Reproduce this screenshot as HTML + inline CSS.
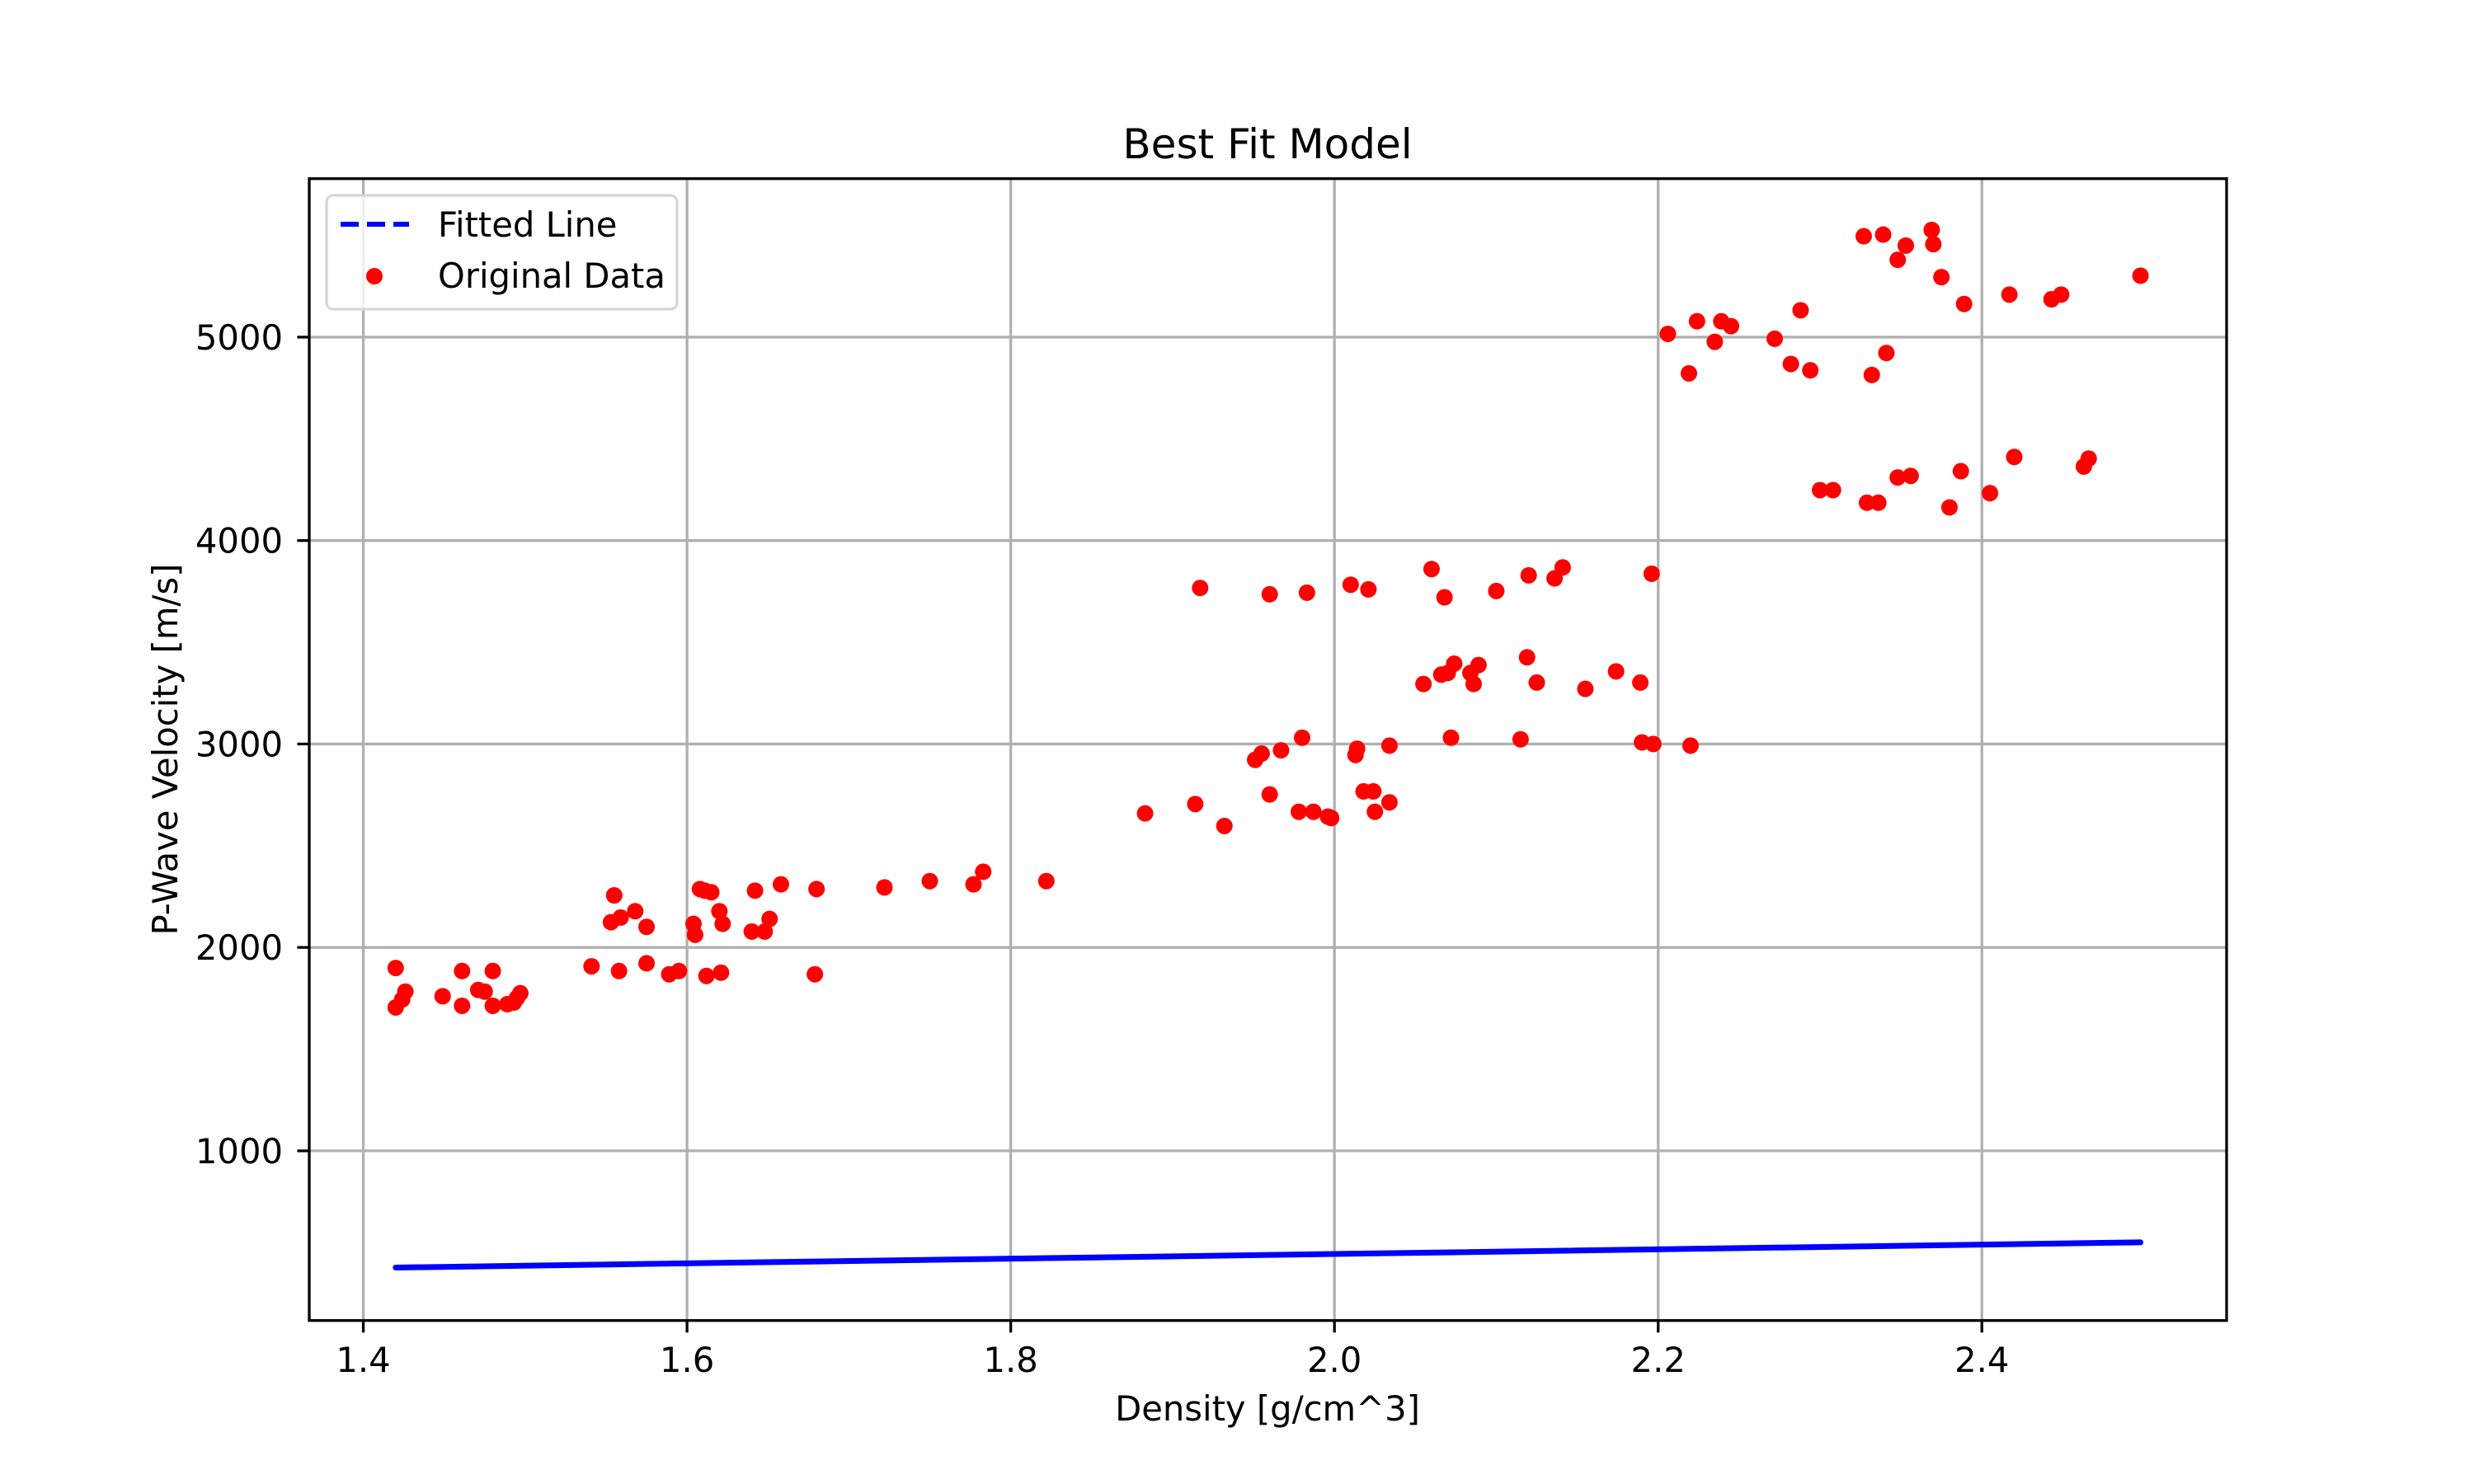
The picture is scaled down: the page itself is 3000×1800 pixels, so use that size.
<!DOCTYPE html>
<html><head><meta charset="utf-8"><style>
html,body{margin:0;padding:0;background:#fff;}
svg{display:block;font-family:"DejaVu Sans","Liberation Sans",sans-serif;}
</style></head><body>
<svg id="chart" width="3000" height="1800" viewBox="0 0 3000 1800" xmlns="http://www.w3.org/2000/svg">
<rect width="3000" height="1800" fill="#fff"/>
<g id="grid"></g>
<g id="marks"></g>
<rect x="375" y="216.7" width="2325" height="1385" fill="none" stroke="#000" stroke-width="3.3"/>
<g id="ticks"></g>
<text x="1537" y="192" font-size="50" text-anchor="middle">Best Fit Model</text>
<text x="1537" y="1723" font-size="41.7" text-anchor="middle">Density [g/cm^3]</text>
<text x="0" y="0" font-size="41.7" text-anchor="middle" transform="translate(215,909) rotate(-90)">P-Wave Velocity [m/s]</text>
<g>
<rect x="396" y="237" width="425" height="138" rx="8" fill="#fff" fill-opacity="0.8" stroke="#d6d6d6" stroke-width="3.3"/>
<line x1="413" y1="272" x2="496" y2="272" stroke="#0000ff" stroke-width="6" stroke-dasharray="22,10"/>
<text x="531" y="287" font-size="41.7">Fitted Line</text>
<circle cx="454" cy="335" r="10" fill="#ff0000"/>
<text x="531" y="349" font-size="41.7">Original Data</text>
</g>
</svg>
<script>
const xTicks = [1.4, 1.6, 1.8, 2.0, 2.2, 2.4];
const xTickLabels = ["1.4", "1.6", "1.8", "2.0", "2.2", "2.4"];
const yTicks = [1000, 2000, 3000, 4000, 5000];
const yTickLabels = ["1000", "2000", "3000", "4000", "5000"];
const densities = [1.420,1.420,1.424,1.426,1.449,1.461,1.461,1.471,1.475,1.480,1.480,1.489,1.493,1.495,1.497,
1.541,1.555,1.553,1.559,1.558,1.568,1.575,1.575,1.589,1.595,1.604,1.605,1.608,1.612,1.611,1.615,1.620,1.622,1.621,1.640,1.642,1.648,1.651,1.658,1.679,1.680,
1.722,1.750,1.777,1.783,1.822,
1.883,1.914,1.932,1.917,1.960,1.983,1.960,1.951,1.955,1.967,1.980,1.978,1.987,1.996,1.998,2.010,2.021,2.013,2.014,2.018,2.025,2.024,2.034,2.034,
2.055,2.060,2.068,2.066,2.072,2.070,2.074,2.084,2.086,2.089,2.100,2.115,2.120,2.119,2.125,2.136,2.141,2.155,2.174,2.189,2.190,2.196,2.197,2.220,
2.206,2.219,2.224,2.235,2.239,2.245,2.272,2.282,2.288,2.294,2.327,2.332,2.339,2.341,2.348,2.353,2.369,2.370,2.375,2.389,2.417,2.443,2.449,2.498,
2.300,2.308,2.329,2.336,2.348,2.356,2.380,2.387,2.405,2.420,2.463,2.466];
const velocities = [1899,1705,1744,1783,1760,1884,1713,1791,1783,1884,1713,1721,1729,1752,1775,
1907,2256,2124,2147,1884,2178,2101,1922,1868,1884,2116,2062,2287,1860,2279,2271,2178,2116,1876,2078,2279,2078,2140,2310,1868,2287,
2295,2326,2310,2372,2326,
2659,2705,2597,3767,3736,3744,2752,2922,2953,2969,3031,2667,2667,2643,2636,3783,3760,2946,2977,2767,2667,2767,2992,2713,
3295,3860,3721,3341,3031,3349,3395,3349,3295,3388,3752,3023,3829,3426,3302,3814,3868,3271,3357,3302,3008,3837,3000,2992,
5016,4822,5078,4977,5078,5054,4992,4868,5132,4837,5496,4814,5504,4922,5380,5450,5527,5457,5295,5163,5209,5186,5209,5302,
4248,4248,4186,4186,4310,4318,4163,4341,4233,4411,4364,4403];
const fitIntercept = [263];
const fitSlope = [115];

const NS = "http://www.w3.org/2000/svg";
const X0 = 375, X1 = 2700, Y0 = 1601.7, Y1 = 216.7;
const xMin = 1.3666, xMax = 2.5512, yMin = 166, yMax = 5779;
function sx(v){ return X0 + (v - xMin) / (xMax - xMin) * (X1 - X0); }
function sy(v){ return Y0 - (v - yMin) / (yMax - yMin) * (Y0 - Y1); }
function mk(tag, attrs, parent){
  const e = document.createElementNS(NS, tag);
  for (const k in attrs) e.setAttribute(k, attrs[k]);
  parent.appendChild(e);
  return e;
}
const grid = document.getElementById('grid');
const ticks = document.getElementById('ticks');
const marks = document.getElementById('marks');
xTicks.forEach((t, i) => {
  const x = sx(t);
  const g = mk('line', {x1:x, y1:Y0, x2:x, y2:Y1, stroke:'#b0b0b0', 'stroke-width':3.3}, grid);
  
  
  const tk = mk('line', {x1:x, y1:Y0, x2:x, y2:Y0 + 14.6, stroke:'#000', 'stroke-width':3.3}, ticks);
  
  
  const lb = mk('text', {x:x, y:1664, 'font-size':41.7, 'text-anchor':'middle'}, ticks);
  lb.textContent = xTickLabels[i];
  
  
});
yTicks.forEach((t, i) => {
  const y = sy(t);
  const g = mk('line', {x1:X0, y1:y, x2:X1, y2:y, stroke:'#b0b0b0', 'stroke-width':3.3}, grid);
  
  
  const tk = mk('line', {x1:X0 - 14.6, y1:y, x2:X0, y2:y, stroke:'#000', 'stroke-width':3.3}, ticks);
  
  
  const lb = mk('text', {x:343, y:y + 15, 'font-size':41.7, 'text-anchor':'end'}, ticks);
  lb.textContent = yTickLabels[i];
  
  
});
const dMin = Math.min(...densities), dMax = Math.max(...densities);
const fit = mk('line', {x1:sx(dMin), y1:sy(fitIntercept[0] + fitSlope[0]*dMin), x2:sx(dMax), y2:sy(fitIntercept[0] + fitSlope[0]*dMax), stroke:'#0000ff', 'stroke-width':7, 'stroke-linecap':'round'}, marks);


densities.forEach((d, i) => {
  const c = mk('circle', {cx:sx(d), cy:sy(velocities[i]), r:10, fill:'#ff0000'}, marks);
  
  
});
</script>
</body></html>
